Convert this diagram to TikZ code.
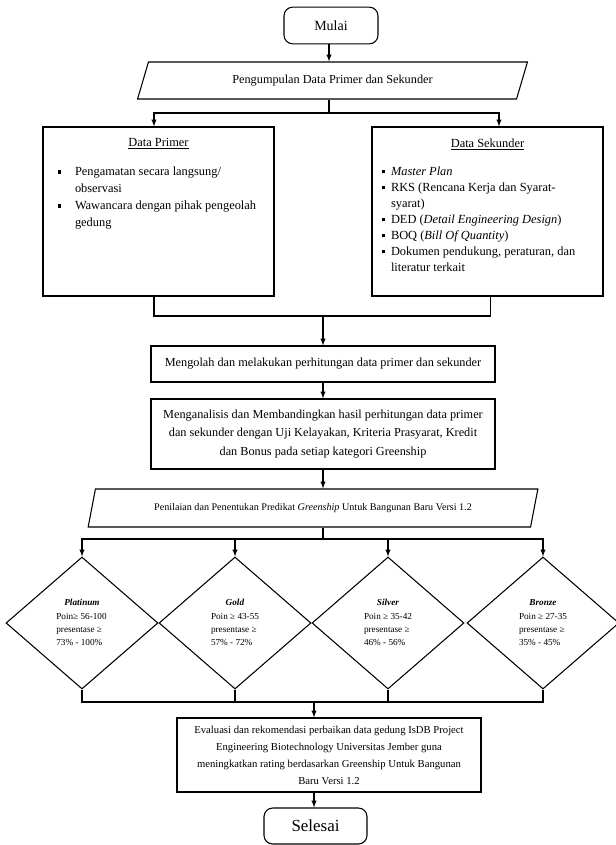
\documentclass[tikz,border=0pt]{standalone}
\usepackage{fontspec}
\setmainfont{Liberation Serif}
\usetikzlibrary{shapes.geometric, arrows}

% butir daftar dengan kotak kecil
\newcommand{\butir}[1]{\par\hangindent=#1\hangafter=1\noindent\makebox[#1][l]{\rule[0.4ex]{2.4pt}{2.4pt}}}

\begin{document}
\begin{tikzpicture}[x=0.75pt, y=-0.75pt, >=latex, line width=0.8pt,
  kotak/.style={draw, rectangle, inner sep=0pt, align=center},
  ujung/.style={draw, rectangle, rounded corners=6.5pt, inner sep=0pt},
  jajar/.style={draw, trapezium, trapezium left angle=62, trapezium right angle=118, trapezium stretches=true, inner sep=0pt},
  predikat/.style={draw, diamond, minimum width=114pt, minimum height=99pt, inner sep=0pt, font={\fontsize{6.9}{10}\selectfont}}]
\useasboundingbox (0,0) rectangle (616,845);

           \node[ujung, minimum width=70.5pt, minimum height=27.5pt, font={\fontsize{10.5}{12}\selectfont}](mulai)  at (331,25.5) {Mulai};
           \node[jajar, minimum width=293pt, minimum height=27.75pt, font={\fontsize{9.2}{12}\selectfont}](kumpul)  at (332.5,80.5) {Pengumpulan Data Primer dan Sekunder};

      \node[kotak](primer)  at (158.5,211.5) {\parbox[c][126.75pt][t]{173.25pt}{\fontsize{9.3}{12.75}\selectfont
        \vspace*{8.6pt}\centering\underline{Data Primer}\par\vspace{9.2pt}\raggedright\leftskip=11.25pt
        \butir{12.75pt}Pengamatan secara langsung/\newline observasi
        \butir{12.75pt}Wawancara dengan pihak pengeolah\newline gedung\par}};
      \node[kotak](sekunder)  at (487.5,211.5) {\parbox[c][126.75pt][t]{173.25pt}{\fontsize{9.3}{12}\selectfont
        \vspace*{8.6pt}\centering\underline{Data Sekunder}\par\vspace{9.4pt}\raggedright\leftskip=7.5pt
        \butir{6.75pt}\textit{Master Plan}
        \butir{6.75pt}RKS (Rencana Kerja dan Syarat-\newline syarat)
        \butir{6.75pt}DED (\textit{Detail Engineering Design})
        \butir{6.75pt}BOQ (\textit{Bill Of Quantity})
        \butir{6.75pt}Dokumen pendukung, peraturan, dan\newline literatur terkait\par}};

      \node[kotak, minimum width=258pt, minimum height=27pt, font={\fontsize{9.2}{14}\selectfont}](olah)  at (323,364) {Mengolah dan melakukan perhitungan data primer dan sekunder};
      \node[kotak, minimum width=258pt, minimum height=52.5pt, font={\fontsize{9.2}{14}\selectfont}](analisis)  at (323,434) {Menganalisis dan Membandingkan hasil perhitungan data primer\\dan sekunder dengan Uji Kelayakan, Kriteria Prasyarat, Kredit\\dan Bonus pada setiap kategori Greenship};
      \node[jajar, trapezium left angle=60, trapezium right angle=120, minimum width=337.5pt, minimum height=28.5pt, font={\fontsize{7.6}{9}\selectfont}](nilai)  at (313,508) {Penilaian dan Penentukan Predikat \textit{Greenship} Untuk Bangunan Baru Versi 1.2};

      \node[predikat](platinum)  at (82,623) {\begin{tabular}{@{}l@{}}\multicolumn{1}{c}{\textbf{\textit{Platinum}}}\\Poin≥ 56-100\\presentase ≥\\73\% - 100\%\end{tabular}};
      \node[predikat](gold)  at (235,623) {\begin{tabular}{@{}l@{}}\multicolumn{1}{c}{\textbf{\textit{Gold}}}\\Poin ≥ 43-55\\presentase ≥\\57\% - 72\%\end{tabular}};
      \node[predikat](silver)  at (388,623) {\begin{tabular}{@{}l@{}}\multicolumn{1}{c}{\textbf{\textit{Silver}}}\\Poin  ≥ 35-42\\presentase ≥\\46\% - 56\%\end{tabular}};
      \node[predikat](bronze)  at (543,623) {\begin{tabular}{@{}l@{}}\multicolumn{1}{c}{\textbf{\textit{Bronze}}}\\Poin  ≥ 27-35\\presentase ≥\\35\% - 45\%\end{tabular}};

      \node[kotak, minimum width=228pt, minimum height=55.5pt, font={\fontsize{8}{12.75}\selectfont}](evaluasi)  at (329,755) {Evaluasi dan rekomendasi perbaikan data gedung IsDB Project\\Engineering Biotechnology Universitas Jember guna\\meningkatkan rating berdasarkan Greenship Untuk Bangunan\\Baru Versi 1.2};
      \node[ujung, minimum width=77.25pt, minimum height=27pt, font={\fontsize{12.7}{14}\selectfont}](selesai)  at (315.5,826) {Selesai};

      \coordinate (cabang1) at (329,113);
      \coordinate (gabung1) at (323,316);
      \coordinate (cabang2) at (323,539);
      \coordinate (gabung2) at (314,702);

      \draw[->] (mulai.south -| cabang1) -- (cabang1 |- kumpul.north);
      \draw (kumpul.south -| cabang1) -- (cabang1);
      \draw[->] (cabang1) -| ([xshift=-3.4pt]primer.north);
      \draw[->] (cabang1) -| ([xshift=8.6pt]sekunder.north);
      \draw ([xshift=-3.4pt]primer.south) |- (gabung1);
      \draw ([xshift=1.9pt]sekunder.south) |- (gabung1);
      \draw[->] (gabung1) -- (olah);
      \draw[->] (olah) -- (analisis);
      \draw[->] (analisis.south) -- (cabang2 |- nilai.north) ;
      \draw (nilai.south -| cabang2) -- (cabang2);
      \draw[->] (cabang2) -| (platinum.north);
      \draw[->] (cabang2) -| (gold.north);
      \draw[->] (cabang2) -| (silver.north);
      \draw[->] (cabang2) -| (bronze.north);
      \draw (platinum.south) |- (gabung2);
      \draw (gold.south) |- (gabung2);
      \draw (silver.south) |- (gabung2);
      \draw (bronze.south) |- (gabung2);
      \draw[->] (gabung2) -- (gabung2 |- evaluasi.north);
      \draw[->] (evaluasi.south -| gabung2) -- (selesai.north -| gabung2);
          \end{tikzpicture}
\end{document}
